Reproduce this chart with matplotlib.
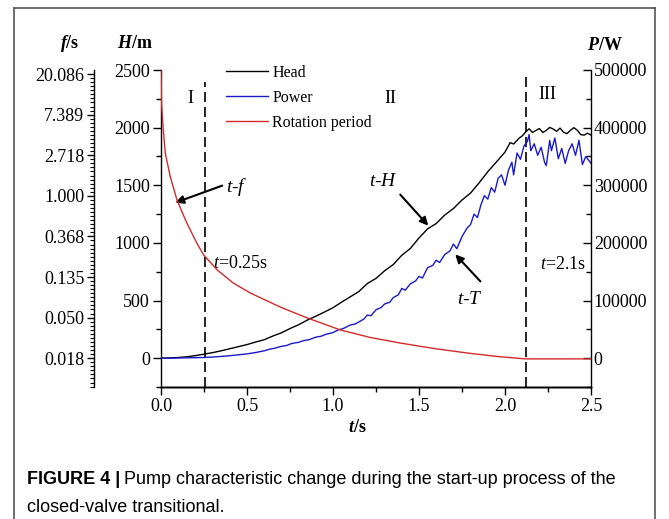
import numpy as np
import matplotlib
matplotlib.use('Agg')
import matplotlib.pyplot as plt
from matplotlib.ticker import FixedLocator, MultipleLocator, FormatStrFormatter, NullFormatter
from matplotlib.lines import Line2D

plt.rcParams['font.family'] = 'Liberation Serif'
plt.rcParams['mathtext.fontset'] = 'custom'
plt.rcParams['mathtext.rm'] = 'Liberation Serif'
plt.rcParams['mathtext.it'] = 'Liberation Serif:italic'
plt.rcParams['mathtext.bf'] = 'Liberation Serif:bold'
plt.rcParams['mathtext.bfit'] = 'Liberation Serif:italic:bold'

# ---- data ----
# head H (m) vs t (s)
t_head = [0.00, 0.05, 0.10, 0.15, 0.20, 0.25, 0.30, 0.35, 0.40, 0.45, 0.50, 0.55,
          0.60, 0.65, 0.70, 0.75, 0.80, 0.85, 0.90, 0.95, 1.00, 1.05, 1.10, 1.15,
          1.20, 1.25, 1.30, 1.35, 1.40, 1.45, 1.50, 1.55, 1.60, 1.65, 1.70, 1.75,
          1.80, 1.85, 1.90, 1.95, 2.00, 2.03, 2.05, 2.08, 2.10, 2.12, 2.14, 2.16,
          2.18, 2.20, 2.22, 2.24, 2.26, 2.28, 2.30, 2.32, 2.34, 2.36, 2.38, 2.40,
          2.42, 2.44, 2.46, 2.48, 2.50]
head = [0, 2, 6, 12, 22, 35, 48, 64, 82, 100, 118, 140,
        160, 192, 220, 257, 290, 330, 364, 400, 438, 486, 532, 578,
        648, 692, 758, 812, 893, 952, 1043, 1122, 1168, 1242, 1298, 1372,
        1433, 1522, 1618, 1702, 1788, 1870, 1858, 1906, 1928, 1962, 1990, 1958,
        1976, 1992, 1958, 1976, 2002, 1988, 1968, 1996, 1960, 1948, 1976, 2000,
        1978, 1940, 1935, 1952, 1935]

# power P (W) vs t (s)
t_power = [0.00, 0.05, 0.10, 0.15, 0.20, 0.25, 0.30, 0.35, 0.40, 0.45, 0.50, 0.55,
           0.60, 0.63, 0.66, 0.70, 0.73, 0.76, 0.80, 0.83, 0.86, 0.90, 0.93, 0.96,
           1.00, 1.03, 1.06, 1.10, 1.13, 1.16, 1.18, 1.20, 1.22, 1.25, 1.28, 1.30,
           1.33, 1.35, 1.38, 1.40, 1.42, 1.45, 1.48, 1.50, 1.52, 1.55, 1.58, 1.60,
           1.62, 1.65, 1.68, 1.70, 1.72, 1.75, 1.78, 1.80, 1.82, 1.84, 1.86, 1.88,
           1.90, 1.92, 1.94, 1.96, 1.98, 2.00, 2.02, 2.04, 2.05, 2.07, 2.09, 2.11,
           2.13, 2.14, 2.15, 2.17, 2.19, 2.21, 2.23, 2.24, 2.26, 2.27, 2.29, 2.31,
           2.33, 2.35, 2.37, 2.39, 2.41, 2.43, 2.45, 2.47, 2.49, 2.50]
power = [0, 0, 300, 600, 900, 1200, 2000, 3000, 4300, 5800, 7500, 9800,
         12800, 15500, 17200, 20500, 22000, 25500, 27500, 30500, 32000, 36500, 38000, 41500,
         44500, 49000, 51500, 57500, 59500, 64500, 68000, 75000, 73500, 84000, 88000, 94000,
         97000, 105000, 110000, 121000, 118000, 129000, 134000, 142000, 139000, 157000, 161000, 170000,
         166000, 180000, 186000, 198000, 190000, 211000, 226000, 232000, 250000, 244000, 266000, 282000,
         276000, 296000, 288000, 312000, 318000, 300000, 326000, 340000, 318000, 356000, 345000, 368000,
         376000, 388000, 360000, 372000, 352000, 366000, 340000, 334000, 378000, 360000, 382000, 346000,
         364000, 338000, 360000, 372000, 352000, 378000, 336000, 350000, 342000, 338000]

# rotation period f (s) vs t (s)
t_rot = [0.0, 0.003, 0.012, 0.025, 0.054, 0.093, 0.151, 0.209, 0.248, 0.327, 0.420,
         0.519, 0.606, 0.693, 0.851, 1.043, 1.217, 1.391, 1.583, 1.781, 1.955, 2.118, 2.30, 2.50]
rot = [22.17, 9.84, 5.49, 2.85, 1.60, 0.902, 0.508, 0.310, 0.233, 0.161, 0.1167,
       0.0913, 0.0768, 0.0646, 0.0493, 0.0367, 0.0305, 0.0266, 0.0233, 0.0208, 0.0191, 0.0180,
       0.0180, 0.0180]

phase_bounds = [0.253, 2.12]
phase_names = ['I', 'II', 'III']

# ---- layout ----
W, H = 669, 519
fig = plt.figure(figsize=(W / 100, H / 100), dpi=100)

def fx(px):
    return px / W

def fy(py):
    return 1 - py / H

ax = fig.add_axes([fx(161), fy(387), (591 - 161) / W, (387 - 70) / H])
ax2 = ax.twinx()
ax3 = ax.twinx()

fs = 13
blue = '#1a1acc'
red = '#d42a2a'

l1, = ax.plot(t_head, head, color='black', lw=1.0)
l2, = ax2.plot(t_power, power, color=blue, lw=1.0)
l3, = ax3.plot(t_rot, rot, color=red, lw=1.0)

ax.set_xlim(0, 2.5)
ax.set_ylim(-250, 2500)
ax2.set_ylim(-50000, 500000)
ax3.set_yscale('log', base=np.e)
ax3.set_ylim(np.exp(-4.71), np.exp(3.10))

for a in (ax, ax2, ax3):
    a.spines['top'].set_visible(False)
    for s in a.spines.values():
        s.set_linewidth(1.0)
ax.spines['right'].set_visible(False)
ax2.spines['left'].set_visible(False)
ax3.spines['right'].set_visible(False)
ax3.spines['left'].set_visible(True)
ax3.spines['left'].set_position(('axes', (94 - 161) / 430))
ax3.yaxis.set_ticks_position('left')

ax.xaxis.set_major_locator(MultipleLocator(0.5))
ax.xaxis.set_minor_locator(MultipleLocator(0.25))
ax.xaxis.set_major_formatter(FormatStrFormatter('%.1f'))
ax.yaxis.set_major_locator(MultipleLocator(500))
ax.yaxis.set_minor_locator(MultipleLocator(250))
ax2.yaxis.set_major_locator(MultipleLocator(100000))
ax2.yaxis.set_minor_locator(MultipleLocator(50000))
ax3.yaxis.set_major_locator(FixedLocator(np.exp(np.arange(-4, 4))))
ax3.yaxis.set_major_formatter(FormatStrFormatter('%.3f'))
ax3.yaxis.set_minor_locator(FixedLocator(np.exp(np.arange(-4.7, 3.1, 0.1))))
ax3.yaxis.set_minor_formatter(NullFormatter())

ax.tick_params(axis='both', which='major', direction='out', length=6, width=1, labelsize=fs, pad=2)
ax.tick_params(axis='both', which='minor', direction='out', length=3.5, width=1)
ax2.tick_params(axis='y', which='major', direction='in', length=6, width=1, labelsize=fs, pad=2)
ax2.tick_params(axis='y', which='minor', direction='in', length=3.5, width=1)
ax3.tick_params(axis='y', which='major', direction='out', length=5, width=1, labelsize=fs, pad=2)
ax3.tick_params(axis='y', which='minor', direction='out', length=3, width=0.8)

# phase boundaries
ax.vlines(phase_bounds, [-250, -250], [2400, 2480], colors='black',
          linestyles=(0, (6, 3)), lw=1.2)

# axis titles
fig.text(fx(70), fy(43), r'$\mathbfit{f}\mathbf{/s}$', fontsize=13, ha='center', va='center')
fig.text(fx(135), fy(43), r'$\mathbfit{H}\mathbf{/m}$', fontsize=13, ha='center', va='center')
fig.text(fx(605), fy(45), r'$\mathbfit{P}\mathbf{/W}$', fontsize=13, ha='center', va='center')
fig.text(fx(357), fy(427), r'$\mathbfit{t}\mathbf{/s}$', fontsize=13, ha='center', va='center')

# phase labels
ax.text(0.170, 2250, phase_names[0], fontsize=fs, ha='center', va='center')
ax.text(1.333, 2250, phase_names[1], fontsize=fs, ha='center', va='center')
ax.text(2.245, 2285, phase_names[2], fontsize=fs, ha='center', va='center')

# curve annotations
arrow = dict(arrowstyle='-|>', color='black', lw=1.5, mutation_scale=12, shrinkA=0, shrinkB=0)
ax.annotate('', xy=(0.083, 1349), xytext=(0.356, 1497), arrowprops=arrow)
ax.text(0.442, 1488, r'$\mathit{t}$-$\mathit{f}$', fontsize=fs + 1, ha='center', va='center')
ax.text(0.304, 822, r'$\mathit{t}$=0.25s', fontsize=fs, ha='left', va='center')
ax.annotate('', xy=(1.554, 1150), xytext=(1.391, 1419), arrowprops=arrow)
ax.text(1.293, 1531, r'$\mathit{t}$-$\mathit{H}$', fontsize=fs + 1, ha='center', va='center')
ax.annotate('', xy=(1.711, 900), xytext=(1.857, 666), arrowprops=arrow)
ax.text(1.799, 510, r'$\mathit{t}$-$\mathit{T}$', fontsize=fs + 1, ha='center', va='center')
ax.text(2.339, 813, r'$\mathit{t}$=2.1s', fontsize=fs, ha='center', va='center')

# legend
fig.legend([l1, l2, l3], ['Head', 'Power', 'Rotation period'], loc='upper left',
           bbox_to_anchor=(fx(226), fy(65)), frameon=False, fontsize=11.5,
           handlelength=2.6, handletextpad=0.3, labelspacing=0.55,
           borderpad=0, borderaxespad=0)

# frame around figure panel
frame = dict(color='#555555', lw=1.2)
fig.add_artist(Line2D([fx(14), fx(14)], [fy(8), 0], **frame))
fig.add_artist(Line2D([fx(14), fx(655)], [fy(8), fy(8)], **frame))
fig.add_artist(Line2D([fx(655), fx(655)], [fy(8), 0], **frame))

# caption
cap = dict(family='Liberation Sans', fontsize=13, va='center', ha='left')
b = fig.text(fx(27), fy(480), 'FIGURE 4 |', fontweight='bold', **cap)
r = fig.canvas.get_renderer()
bb = b.get_window_extent(renderer=r)
fig.text(bb.x1 / W + fx(4), fy(480),
         'Pump characteristic change during the start-up process of the', **cap)
fig.text(fx(27), fy(507), 'closed-valve transitional.', **cap)

fig.savefig('out.png', dpi=100)
